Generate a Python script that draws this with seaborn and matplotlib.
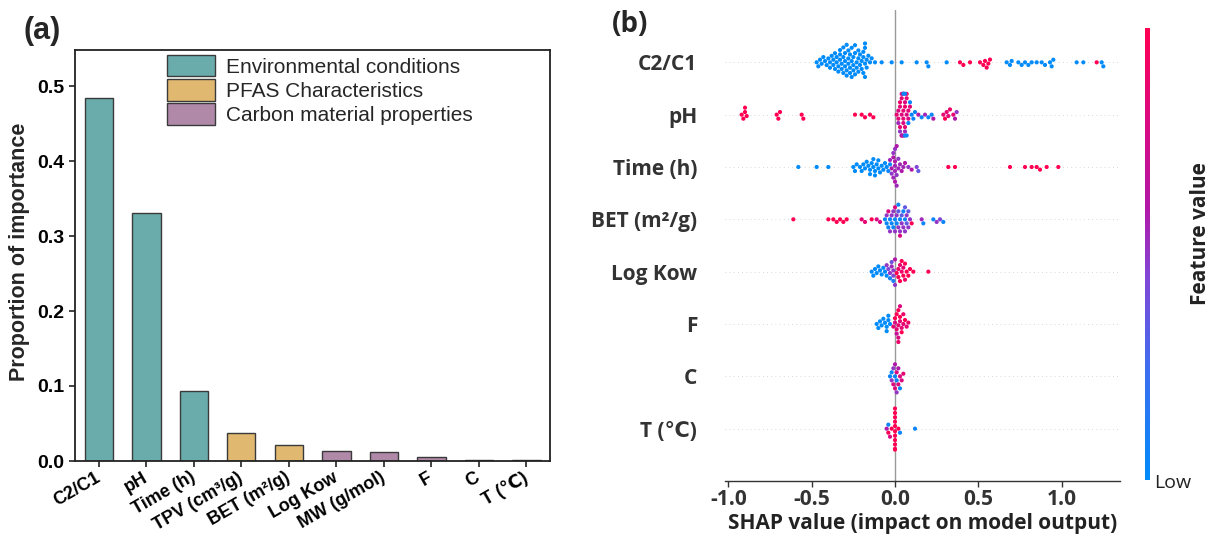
import matplotlib
matplotlib.use("Agg")
import matplotlib.pyplot as plt
import seaborn as sns
import numpy as np
import pandas as pd
from matplotlib.colors import LinearSegmentedColormap, Normalize
from matplotlib.cm import ScalarMappable
from matplotlib.patches import Patch

# ---------------- Panel (a) data ----------------
features_a = ["C2/C1", "pH", "Time (h)", "TPV (cm³/g)", "BET (m²/g)",
              "Log Kow", "MW (g/mol)", "F", "C", "T (℃)"]
importance_a = [0.484, 0.331, 0.093, 0.038, 0.021, 0.014, 0.012, 0.006, 0.002, 0.001]
group_names = ["Environmental conditions", "PFAS Characteristics", "Carbon material properties"]
groups_a = [group_names[0], group_names[0], group_names[0], group_names[1], group_names[1],
            group_names[2], group_names[2], group_names[2], group_names[2], group_names[2]]
group_colors = {group_names[0]: "#6aacac", group_names[1]: "#e0b870", group_names[2]: "#b088a8"}
yticks_a = [0.0, 0.1, 0.2, 0.3, 0.4, 0.5]

# ---------------- Panel (b) data ----------------
features_b = ["C2/C1", "pH", "Time (h)", "BET (m²/g)", "Log Kow", "F", "C", "T (℃)"]

c2c1_shap = [-0.47, -0.46, -0.45, -0.44, -0.43, -0.42, -0.41, -0.40, -0.39, -0.39,
             -0.38, -0.37, -0.37, -0.36, -0.36, -0.35, -0.35, -0.34, -0.34, -0.33,
             -0.33, -0.33, -0.32, -0.32, -0.31, -0.31, -0.31, -0.30, -0.30, -0.30,
             -0.29, -0.29, -0.29, -0.28, -0.28, -0.28, -0.27, -0.27, -0.27, -0.26,
             -0.26, -0.26, -0.25, -0.25, -0.25, -0.24, -0.24, -0.24, -0.23, -0.23,
             -0.22, -0.22, -0.22, -0.21, -0.21, -0.20, -0.20, -0.19, -0.19, -0.19,
             -0.18, -0.18, -0.18, -0.18, -0.17, -0.17, -0.16, -0.15, -0.14, -0.12,
             -0.08, -0.02, 0.04, 0.13, 0.19, 0.20, 0.31,
             0.39, 0.41, 0.45, 0.51, 0.53, 0.54, 0.55, 0.56, 0.57,
             0.67, 0.69, 0.70, 0.74, 0.76, 0.78, 0.80, 0.82, 0.85, 0.88, 0.90, 0.93, 0.94, 0.95,
             1.09, 1.13, 1.21, 1.24, 1.25]
c2c1_fval = [0, 0, 0, 0, 0, 0, 0, 0, 0, 0,
             0, 0, 0, 0, 0, 0, 0, 0, 0, 0,
             0, 0, 0, 0, 0, 0, 0, 0, 0, 0,
             0, 0, 0, 0, 0, 0, 0, 0, 0, 0,
             0, 0, 0, 0, 0, 0, 0, 0, 0, 0,
             0, 0, 0, 0, 0, 0, 0, 0, 0, 0,
             0, 0, 0, 0, 0, 0, 0, 0, 0, 0,
             0, 0, 0, 0, 0, 0, 0,
             1, 1, 1, 1, 1, 1, 1, 1, 1,
             0, 0, 0, 0, 0, 0, 0, 0, 0, 0, 0, 0, 0, 0,
             0, 0, 1, 0, 0]

ph_shap = [-0.92, -0.91, -0.90, -0.90, -0.89, -0.71, -0.70, -0.69, -0.56, -0.55,
           -0.24, -0.20, -0.18, -0.15, -0.13,
           0.01, 0.02, 0.02, 0.03, 0.03, 0.03, 0.04, 0.04, 0.04, 0.04,
           0.05, 0.05, 0.05, 0.05, 0.05, 0.06, 0.06, 0.06, 0.06, 0.07,
           0.07, 0.07, 0.08, 0.08, 0.09, 0.02, 0.03, 0.04, 0.05, 0.06,
           0.06, 0.07, 0.08, 0.09, 0.10, 0.11, 0.12,
           0.14, 0.16, 0.18, 0.20, 0.22, 0.23, 0.29, 0.30, 0.31, 0.32, 0.33, 0.35, 0.36, 0.37]
ph_fval = [1, 1, 1, 1, 1, 1, 1, 1, 1, 1,
           1, 1, 1, 1, 1,
           0.85, 0.85, 0.8, 0.85, 0.9, 0.85, 0.8, 0.85, 0.9, 0.85,
           0.85, 0.8, 0.9, 0.85, 0.6, 0.85, 0.9, 0.8, 0.55, 0.85,
           0.8, 0.9, 0.85, 0.8, 0.85, 0.55, 0.5, 0.6, 0.05, 0.05,
           0.05, 0.05, 0.05, 0.05, 0.05, 0.05, 0.05,
           0.6, 0.05, 0.55, 0.05, 0.05, 0.6, 0.85, 1, 0.85, 0.85, 0.9, 0.85, 0.6, 0.5]

time_shap = [-0.58, -0.47, -0.40,
             -0.25, -0.24, -0.23, -0.21, -0.20, -0.19, -0.18, -0.17, -0.16, -0.15,
             -0.15, -0.14, -0.13, -0.13, -0.12, -0.12, -0.11, -0.10, -0.10, -0.09,
             -0.08, -0.07, -0.06, -0.05,
             -0.03, -0.02, -0.02, -0.01, -0.01, -0.01, 0.00, 0.00, 0.00, 0.00,
             0.00, 0.01, 0.01, 0.01, 0.02, 0.02, 0.03, -0.04, -0.03,
             0.04, 0.05, 0.06, 0.08, 0.10, 0.13, 0.14,
             0.32, 0.36, 0.69, 0.78, 0.82, 0.85, 0.87, 0.91, 0.98]
time_fval = [0, 0, 0,
             0, 0, 0, 0, 0, 0, 0, 0, 0, 0,
             0, 0, 0, 0, 0, 0, 0, 0, 0, 0,
             0, 0, 0, 0,
             0.55, 0.6, 0.5, 0.55, 0.6, 0.5, 0.55, 0.6, 0.5, 0.55,
             0.6, 0.55, 0.5, 0.6, 0.55, 0.5, 0.55, 0.05, 0.05,
             0.6, 0.55, 0.6, 0.5, 0.6, 0.45, 0.35,
             1, 1, 1, 1, 1, 1, 1, 1, 1]

bet_shap = [-0.61, -0.40, -0.37, -0.35, -0.33, -0.31, -0.29,
            -0.20, -0.18, -0.14, -0.11, -0.09,
            -0.06, -0.05, -0.04, -0.03, -0.02, -0.01, 0.00, 0.01, 0.02, 0.03, 0.05, 0.06,
            -0.05, -0.03, -0.02, -0.01, 0.00, 0.01, 0.02, 0.03, 0.04, 0.05, 0.06, 0.07, 0.08, 0.09,
            0.02, 0.04, 0.06, 0.07, 0.08,
            -0.04, 0.00, 0.03, 0.10,
            0.16, 0.17, 0.23, 0.25, 0.27, 0.29]
bet_fval = [1, 1, 1, 1, 1, 1, 1,
            0.85, 0.85, 1, 0.8, 0.75,
            0.05, 0.05, 0.05, 0.05, 0.05, 0.05, 0.05, 0.05, 0.05, 0.05, 0.05, 0.05,
            0.5, 0.5, 0.5, 0.5, 0.5, 0.5, 0.5, 0.5, 0.5, 0.5, 0.5, 0.5, 0.5, 0.5,
            0.35, 0.35, 0.35, 0.35, 0.35,
            0.8, 0.8, 0.8, 1,
            0.55, 0.05, 0.05, 0.5, 0.45, 0.05]

logkow_shap = [-0.14, -0.13, -0.12, -0.11, -0.10, -0.09, -0.08, -0.07, -0.06, -0.05,
               -0.05, -0.04, -0.03, -0.02, -0.02, -0.01, -0.01, 0.00, 0.00, -0.03, -0.01,
               0.01, 0.02, 0.02, 0.03, 0.03, 0.04, 0.04, 0.05, 0.05, 0.06, 0.06, 0.07, 0.08, 0.09,
               0.11, 0.20]
logkow_fval = [0, 0, 0, 0, 0, 0, 0, 0, 0, 0,
               0.5, 0.45, 0.5, 0.4, 0.55, 0.5, 0.45, 0.6, 0.5, 0.1, 0.1,
               1, 0.9, 1, 0.85, 1, 0.9, 1, 1, 0.85, 1, 0.9, 1, 1, 1,
               1, 1]

f_shap = [-0.11, -0.10, -0.09, -0.08, -0.07, -0.06, -0.05, -0.05, -0.04, -0.04, -0.03,
          -0.01, 0.00, 0.00, 0.01, 0.01, 0.01, 0.02, 0.02, 0.02, 0.02,
          0.03, 0.03, 0.03, 0.04, 0.04, 0.05, 0.05, 0.06, 0.07, 0.08]
f_fval = [0, 0, 0, 0, 0, 0, 0, 0, 0, 0, 0,
          0.85, 0.8, 1, 0.85, 0.7, 1, 0.85, 0.8, 1, 0.9,
          0.85, 1, 0.8, 0.85, 1, 0.85, 0.9, 1, 0.85, 0.9]

c_shap = [-0.03, -0.02, -0.02, -0.01, -0.01, 0.00, 0.00, 0.00, 0.01, 0.01, 0.01,
          0.02, 0.02, 0.03, 0.03, 0.04, 0.05]
c_fval = [0.05, 0.5, 0.05, 0.8, 0.5, 0.05, 0.8, 0.6, 0.05, 0.8, 0.5,
          0.8, 0.6, 0.8, 0.05, 0.8, 0.85]

t_shap = [0.00, 0.00, 0.00, 0.00, 0.00, 0.00, 0.00, 0.00, 0.00, 0.00, 0.00,
          -0.05, -0.04, -0.04, -0.03, -0.02, 0.02, 0.03, 0.12]
t_fval = [1, 1, 1, 1, 1, 1, 1, 1, 1, 1, 1,
          0.6, 1, 0.05, 0.8, 1, 1, 0.05, 0.05]

shap_rows = [c2c1_shap, ph_shap, time_shap, bet_shap, logkow_shap, f_shap, c_shap, t_shap]
fval_rows = [c2c1_fval, ph_fval, time_fval, bet_fval, logkow_fval, f_fval, c_fval, t_fval]
xticks_b = [-1.0, -0.5, 0.0, 0.5, 1.0]

# ---------------- Style ----------------
sns.set_style("white")
plt.rcParams["font.family"] = ["Liberation Sans", "DejaVu Sans"]
plt.rcParams["axes.unicode_minus"] = False

W, H = 1223, 537
fig = plt.figure(figsize=(W / 100, H / 100), dpi=100)


def rect(l, t, r, b):
    return [l / W, 1 - b / H, (r - l) / W, (b - t) / H]


# ---------------- Panel (a) ----------------
axa = fig.add_axes(rect(75, 50, 550, 461))
df_a = pd.DataFrame({"feature": features_a, "importance": importance_a, "group": groups_a})
sns.barplot(data=df_a, x="feature", y="importance", hue="group", order=features_a,
            hue_order=group_names, palette=group_colors, dodge=False, width=0.6,
            saturation=1, edgecolor="#3a3a3a", linewidth=1.0, ax=axa, legend=False)
axa.set_xlim(-0.5, 9.5)
axa.set_ylim(0, 0.548)
axa.set_yticks(yticks_a)
axa.set_yticklabels([f"{v:.1f}" for v in yticks_a], fontsize=14, fontweight="bold")
axa.set_xticks(range(len(features_a)))
axa.set_xticklabels(features_a, fontsize=13, fontweight="bold", rotation=30,
                    ha="right", va="center", rotation_mode="anchor")
axa.set_xlabel("")
axa.set_ylabel("")
for s in axa.spines.values():
    s.set_visible(True)
    s.set_color("#222222")
    s.set_linewidth(1.3)
axa.tick_params(axis="both", direction="out", length=4, width=1.2, colors="#222222",
                left=True, bottom=True, labelcolor="black")
axa.tick_params(axis="x", pad=7)
handles = [Patch(facecolor=group_colors[g], edgecolor="#3a3a3a", linewidth=1.0) for g in group_names]
axa.legend(handles, group_names, loc="upper left", bbox_to_anchor=(167 / W, 1 - 55 / H),
           bbox_transform=fig.transFigure, frameon=False, fontsize=15,
           handlelength=2.3, handleheight=1.2, labelspacing=0.12, handletextpad=0.55,
           borderpad=0, borderaxespad=0)
fig.text(20 / W, 1 - 252 / H, "Proportion of importance", rotation=90, ha="center",
         va="center", fontsize=15.5, fontweight="bold")
fig.text(42 / W, 1 - 31 / H, "(a)", ha="center", va="center", fontsize=22, fontweight="bold")

# ---------------- Panel (b) ----------------
cmap = LinearSegmentedColormap.from_list(
    "shap_red_blue",
    [(0.0, "#008bfb"), (0.25, "#3f6df0"), (0.45, "#8246d6"), (0.6, "#b118a8"),
     (0.8, "#dc0a80"), (1.0, "#ff0052")])

rows = []
for name, sv, fv in zip(features_b, shap_rows, fval_rows):
    for s, f in zip(sv, fv):
        rows.append((name, s, f))
df_b = pd.DataFrame(rows, columns=["feature", "shap", "fval"])

axb = fig.add_axes(rect(725, 10, 1120, 481))
for i in range(len(features_b)):
    axb.axhline(i, color="#cccccc", lw=0.6, dashes=(1, 4), zorder=-2)
axb.axvline(0, color="#999999", lw=1.0, zorder=-1)
sns.swarmplot(data=df_b, x="shap", y="feature", hue="fval", order=features_b,
              palette=cmap, hue_norm=(0, 1), size=3.0, linewidth=0, legend=False,
              ax=axb, warn_thresh=1.0)
axb.set_ylim(8, -1)
axb.set_xlim(-1.02, 1.35)
axb.set_xticks(xticks_b)
axb.set_xticklabels([f"{v:.1f}" for v in xticks_b], fontsize=15, fontweight="bold",
                    family=["Open Sans", "DejaVu Sans"], color="#333333")
axb.set_yticks(range(len(features_b)))
axb.set_yticklabels(features_b, fontsize=15, fontweight="bold",
                    family=["Open Sans", "DejaVu Sans"], color="#333333")
axb.set_ylabel("")
axb.set_xlabel("SHAP value (impact on model output)", fontsize=15, fontweight="bold",
               family=["Open Sans", "DejaVu Sans"], color="#222222", labelpad=2)
for k in ["top", "right", "left"]:
    axb.spines[k].set_visible(False)
axb.spines["bottom"].set_visible(True)
axb.spines["bottom"].set_color("#333333")
axb.spines["bottom"].set_linewidth(1.0)
axb.tick_params(axis="y", length=0, pad=20)
axb.tick_params(axis="x", bottom=True, length=4, width=1, color="#333333", pad=2)
fig.text(630 / W, 1 - 25 / H, "(b)", ha="center", va="center", fontsize=20,
         fontweight="bold", family=["Open Sans", "DejaVu Sans"])

cax = fig.add_axes(rect(1145, 28, 1150, 480))
cb = fig.colorbar(ScalarMappable(norm=Normalize(0, 1), cmap=cmap), cax=cax)
cb.outline.set_visible(False)
cax.set_yticks([])
fig.text(1154 / W, 1 - 483 / H, "Low", ha="left", va="center", fontsize=14,
         family=["Open Sans", "DejaVu Sans"], color="#222222")
fig.text(1200 / W, 1 - 234 / H, "Feature value", rotation=90, ha="center", va="center",
         fontsize=15, fontweight="bold", family=["Open Sans", "DejaVu Sans"], color="#222222")

fig.savefig("out.png", dpi=100)
